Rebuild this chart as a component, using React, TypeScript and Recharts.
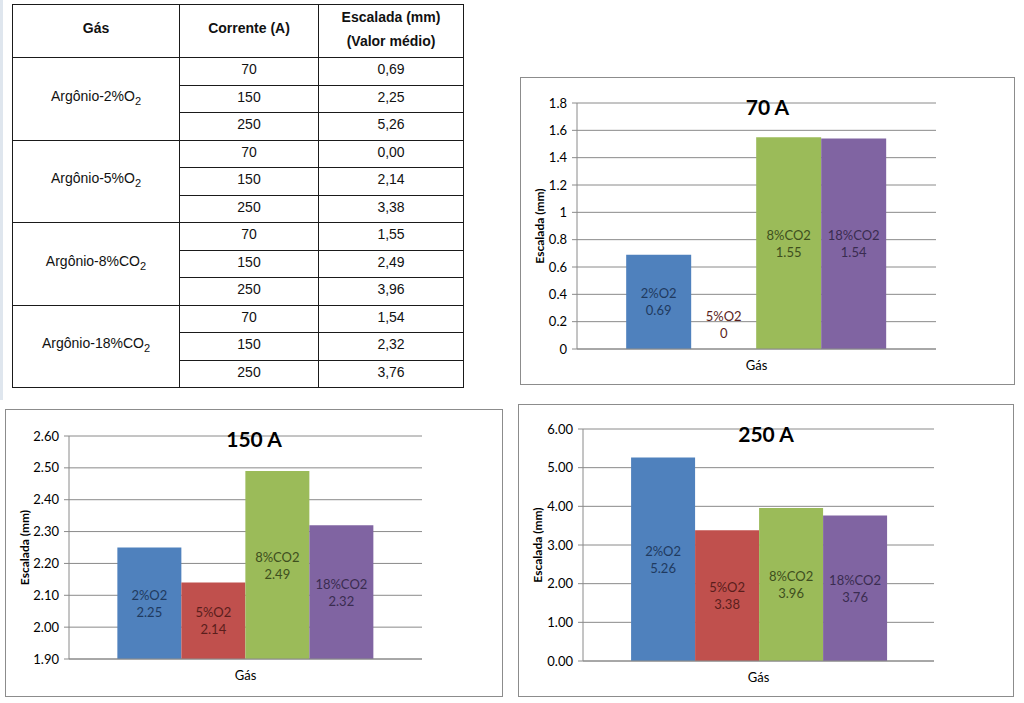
import { BarChart, Bar, XAxis, YAxis, CartesianGrid, LabelList, Label, Cell } from 'recharts';

const gases = ['2%O2', '5%O2', '8%CO2', '18%CO2'];
const tableGases = ['Argônio-2%O', 'Argônio-5%O', 'Argônio-8%CO', 'Argônio-18%CO'];
const currents = [70, 150, 250];

// escalada média (mm) por corrente: 70, 150, 250 A
const argon2O2 = [0.69, 2.25, 5.26];
const argon5O2 = [0.0, 2.14, 3.38];
const argon8CO2 = [1.55, 2.49, 3.96];
const argon18CO2 = [1.54, 2.32, 3.76];
const series = [argon2O2, argon5O2, argon8CO2, argon18CO2];

const ticks70 = [0, 0.2, 0.4, 0.6, 0.8, 1, 1.2, 1.4, 1.6, 1.8];
const ticks150 = [1.9, 2.0, 2.1, 2.2, 2.3, 2.4, 2.5, 2.6];
const ticks250 = [0, 1, 2, 3, 4, 5, 6];

const COLORS = ['#4F81BD', '#C0504D', '#9BBB59', '#8064A2'];
const LABEL_COLORS = ['#1F3A60', '#5A1E1C', '#3E4F1E', '#3A2C50'];
const GRID = '#8a8a8a';
const FONT = 'Lato, "Open Sans", sans-serif';

type Frame = { left: number; top: number; width: number; height: number };
type Plot = { left: number; right: number; top: number; bottom: number };

type ChartProps = {
  title: string;
  idx: number;
  domain: [number, number];
  ticks: number[];
  fmt: (v: number) => string;
  frame: Frame;
  plot: Plot;
};

const YTitle = (props: any) => {
  const vb = props.viewBox || {};
  const x = vb.x + 18;
  const y = vb.y + vb.height / 2;
  return (
    <text
      x={x}
      y={y}
      transform={`rotate(-90, ${x}, ${y})`}
      textAnchor="middle"
      dominantBaseline="central"
      fontFamily={FONT}
      fontWeight="bold"
      fontSize={12}
      fill="#000"
    >
      Escalada (mm)
    </text>
  );
};

const barLabel = (name: string, color: string) => (props: any) => {
  const { x, y, width, height, value } = props;
  const cx = x + width / 2;
  // barra nula: rótulo fica logo acima do eixo
  const cy = Math.abs(height) < 30 ? y - 24 : y + height / 2;
  return (
    <g>
      <text x={cx} y={cy - 8.5} textAnchor="middle" dominantBaseline="central" fontFamily={FONT} fontSize={13} fill={color}>
        {name}
      </text>
      <text x={cx} y={cy + 8.5} textAnchor="middle" dominantBaseline="central" fontFamily={FONT} fontSize={13} fill={color}>
        {String(value)}
      </text>
    </g>
  );
};

const CurrentChart = ({ title, idx, domain, ticks, fmt, frame, plot }: ChartProps) => {
  const w = frame.width - 2;
  const h = frame.height - 2;
  const row: Record<string, any> = { name: 'Gás' };
  gases.forEach((g, i) => (row[g] = series[i][idx]));
  const data = [row];

  return (
    <div
      style={{
        position: 'absolute',
        left: frame.left,
        top: frame.top,
        width: frame.width,
        height: frame.height,
        boxSizing: 'border-box',
        border: '1px solid #8c8c8c',
        background: '#fff',
      }}
    >
      <div
        style={{
          position: 'absolute',
          left: 0,
          right: 0,
          top: 17,
          textAlign: 'center',
          fontFamily: FONT,
          fontWeight: 'bold',
          fontSize: 21,
          lineHeight: '24px',
          color: '#000',
          zIndex: 2,
        }}
      >
        {title}
      </div>
      <BarChart
        width={w}
        height={h}
        data={data}
        margin={{ top: plot.top, right: plot.right, bottom: 0, left: 0 }}
        barCategoryGap="13.7%"
        barGap={0}
      >
        <CartesianGrid vertical={false} stroke={GRID} />
        <XAxis
          dataKey="name"
          tick={false}
          tickLine={false}
          axisLine={{ stroke: GRID }}
          height={plot.bottom}
        >
          <Label value="Gás" position="insideTop" offset={12} style={{ fontFamily: FONT, fontSize: 13, fill: '#000' }} />
        </XAxis>
        <YAxis
          type="number"
          domain={domain}
          ticks={ticks}
          interval={0}
          allowDataOverflow
          width={plot.left}
          tickFormatter={fmt}
          tickSize={5}
          tickMargin={5}
          axisLine={{ stroke: GRID }}
          tickLine={{ stroke: GRID }}
          tick={{ fontFamily: FONT, fontSize: 13, fill: '#000' }}
        >
          <Label content={YTitle} />
        </YAxis>
        {gases.map((g, i) => (
          <Bar key={g} dataKey={g} fill={COLORS[i]} minPointSize={1} isAnimationActive={false}>
            {data.map((d, k) => (
              <Cell key={k} fill={d[g] === 0 ? 'transparent' : COLORS[i]} />
            ))}
            <LabelList dataKey={g} content={barLabel(g, LABEL_COLORS[i])} />
          </Bar>
        ))}
      </BarChart>
    </div>
  );
};

const cell: React.CSSProperties = {
  border: '1px solid #1a1a1a',
  textAlign: 'center',
  padding: 0,
  fontFamily: '"Liberation Sans", Arial, sans-serif',
  fontSize: 14,
  lineHeight: '16px',
  color: '#111',
};

const DataTable = () => (
  <table
    style={{
      position: 'absolute',
      left: 12,
      top: 4,
      width: 452,
      borderCollapse: 'collapse',
      tableLayout: 'fixed',
    }}
  >
    <colgroup>
      <col style={{ width: 167 }} />
      <col style={{ width: 139 }} />
      <col style={{ width: 145 }} />
    </colgroup>
    <thead>
      <tr style={{ height: 53 }}>
        <th style={{ ...cell, fontWeight: 'bold', paddingBottom: 6 }}>Gás</th>
        <th style={{ ...cell, fontWeight: 'bold', paddingBottom: 6 }}>Corrente (A)</th>
        <th style={{ ...cell, fontWeight: 'bold', lineHeight: '24px', paddingBottom: 4 }}>
          Escalada (mm)
          <br />
          (Valor médio)
        </th>
      </tr>
    </thead>
    <tbody>
      {tableGases.map((g, gi) =>
        currents.map((c, ci) => (
          <tr key={`${gi}-${ci}`} style={{ height: 27.5 }}>
            {ci === 0 && (
              <td rowSpan={3} style={{ ...cell, paddingBottom: 6 }}>
                {g}
                <sub style={{ fontSize: 11, lineHeight: 0 }}>2</sub>
              </td>
            )}
            <td style={{ ...cell, paddingBottom: 4 }}>{c}</td>
            <td style={{ ...cell, paddingBottom: 4 }}>{series[gi][ci].toFixed(2).replace('.', ',')}</td>
          </tr>
        ))
      )}
    </tbody>
  </table>
);

const fmt70 = (v: number) => String(Number(v.toFixed(1)));
const fmt2 = (v: number) => v.toFixed(2);

export default function App() {
  return (
    <div style={{ position: 'absolute', left: 0, top: 0, width: 1024, height: 703, background: '#fff', overflow: 'hidden' }}>
      <div style={{ position: 'absolute', left: 0, top: 0, width: 3, height: 400, background: '#dfe6ee' }} />
      <DataTable />
      <CurrentChart
        title="70 A"
        idx={0}
        domain={[0, 1.8]}
        ticks={ticks70}
        fmt={fmt70}
        frame={{ left: 520, top: 77, width: 495, height: 308 }}
        plot={{ left: 56, right: 78, top: 25, bottom: 35 }}
      />
      <CurrentChart
        title="150 A"
        idx={1}
        domain={[1.9, 2.6]}
        ticks={ticks150}
        fmt={fmt2}
        frame={{ left: 5, top: 409, width: 498, height: 288 }}
        plot={{ left: 63, right: 80, top: 26, bottom: 37 }}
      />
      <CurrentChart
        title="250 A"
        idx={2}
        domain={[0, 6]}
        ticks={ticks250}
        fmt={fmt2}
        frame={{ left: 518, top: 404, width: 496, height: 293 }}
        plot={{ left: 64, right: 79, top: 24, bottom: 35 }}
      />
    </div>
  );
}
